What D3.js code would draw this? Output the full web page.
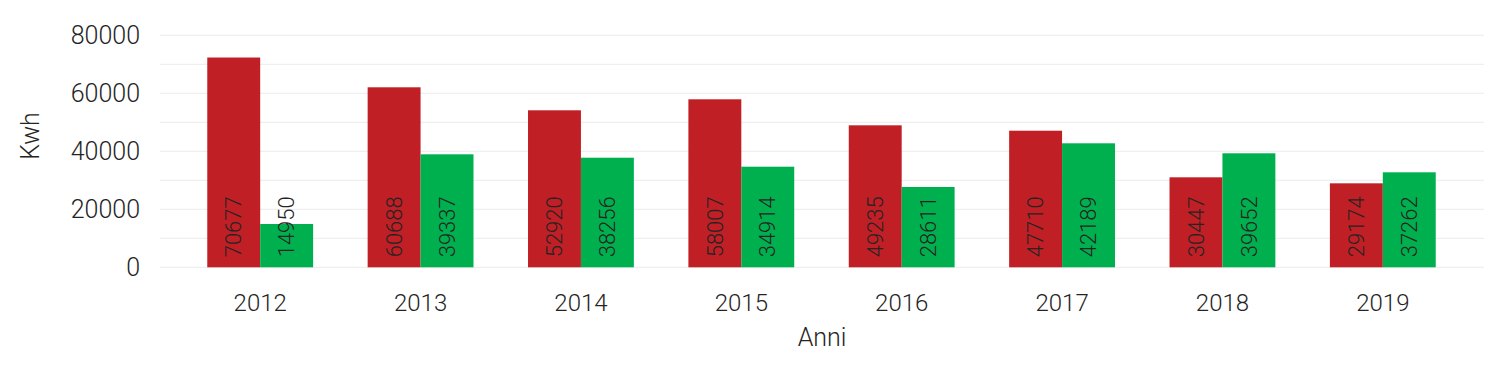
<!DOCTYPE html>
<html>
<head>
<meta charset="utf-8">
<script src="https://cdn.jsdelivr.net/npm/d3@7"></script>
<style>
  body { margin: 0; background: #fff; }
  text { font-family: Roboto, "DejaVu Sans Condensed", sans-serif; font-weight: 300; fill: #252423; }
</style>
</head>
<body>
<svg id="chart" width="1500" height="379"></svg>
<script>
// Data
var anni = ["2012", "2013", "2014", "2015", "2016", "2017", "2018", "2019"];
// bar heights as drawn in the picture
var rossoBarre = [72340, 62070, 54140, 57930, 48960, 47100, 31030, 28960];
var verdeBarre = [14930, 38960, 37790, 34690, 27690, 42760, 39310, 32760];
// values printed in the bars
var rossoEtichette = [70677, 60688, 52920, 58007, 49235, 47710, 30447, 29174];
var verdeEtichette = [14950, 39337, 38256, 34914, 28611, 42189, 39652, 37262];
var yTicks = [0, 20000, 40000, 60000, 80000];
var yGrid = [0, 10000, 20000, 30000, 40000, 50000, 60000, 70000, 80000];

var svg = d3.select("#chart");

var x = d3.scaleBand()
    .domain(anni)
    .range([180, 1463])
    .paddingInner(0.34)
    .paddingOuter(0.17);

var y = d3.scaleLinear()
    .domain([0, 80000])
    .range([267.3, 35.3]);

var serie = d3.scaleBand()
    .domain(["rosso", "verde"])
    .range([0, x.bandwidth()]);

var colori = { rosso: "#c11f26", verde: "#00b04f" };

// gridlines
svg.append("g")
    .selectAll("line")
    .data(yGrid)
    .enter()
    .append("line")
    .attr("x1", 160)
    .attr("x2", 1484)
    .attr("y1", function (d) { return y(d); })
    .attr("y2", function (d) { return y(d); })
    .attr("stroke", "#efefef")
    .attr("stroke-width", 1.2);

// y axis labels
svg.append("g")
    .selectAll("text")
    .data(yTicks)
    .enter()
    .append("text")
    .attr("x", 140)
    .attr("y", function (d) { return y(d); })
    .attr("dy", "0.35em")
    .attr("text-anchor", "end")
    .style("font-size", "25px")
    .text(function (d) { return d; });

// bars
var rows = anni.map(function (a, i) {
    return [
        { anno: a, s: "rosso", v: rossoBarre[i], lab: rossoEtichette[i] },
        { anno: a, s: "verde", v: verdeBarre[i], lab: verdeEtichette[i] }
    ];
});
var flat = [].concat.apply([], rows);

svg.append("g")
    .selectAll("rect")
    .data(flat)
    .enter()
    .append("rect")
    .attr("x", function (d) { return x(d.anno) + serie(d.s); })
    .attr("y", function (d) { return y(d.v); })
    .attr("width", serie.bandwidth())
    .attr("height", function (d) { return y(0) - y(d.v); })
    .attr("fill", function (d) { return colori[d.s]; });

// labels inside bars
svg.append("g")
    .selectAll("text")
    .data(flat)
    .enter()
    .append("text")
    .attr("transform", function (d) {
        var cx = x(d.anno) + serie(d.s) + serie.bandwidth() / 2;
        return "translate(" + cx + "," + (y(0) - 10) + ") rotate(-90)";
    })
    .attr("dy", "0.35em")
    .attr("text-anchor", "start")
    .style("font-size", "22px")
    .text(function (d) { return d.lab; });

// x axis labels
svg.append("g")
    .selectAll("text")
    .data(anni)
    .enter()
    .append("text")
    .attr("x", function (d) { return x(d) + x.bandwidth() / 2; })
    .attr("y", 303)
    .attr("dy", "0.35em")
    .attr("text-anchor", "middle")
    .style("font-size", "24px")
    .text(function (d) { return d; });

// axis titles
svg.append("text")
    .attr("x", 822)
    .attr("y", 337)
    .attr("dy", "0.35em")
    .attr("text-anchor", "middle")
    .style("font-size", "25px")
    .text("Anni");

svg.append("text")
    .attr("transform", "translate(30,136) rotate(-90)")
    .attr("dy", "0.35em")
    .attr("text-anchor", "middle")
    .style("font-size", "25px")
    .text("Kwh");
</script>
</body>
</html>
